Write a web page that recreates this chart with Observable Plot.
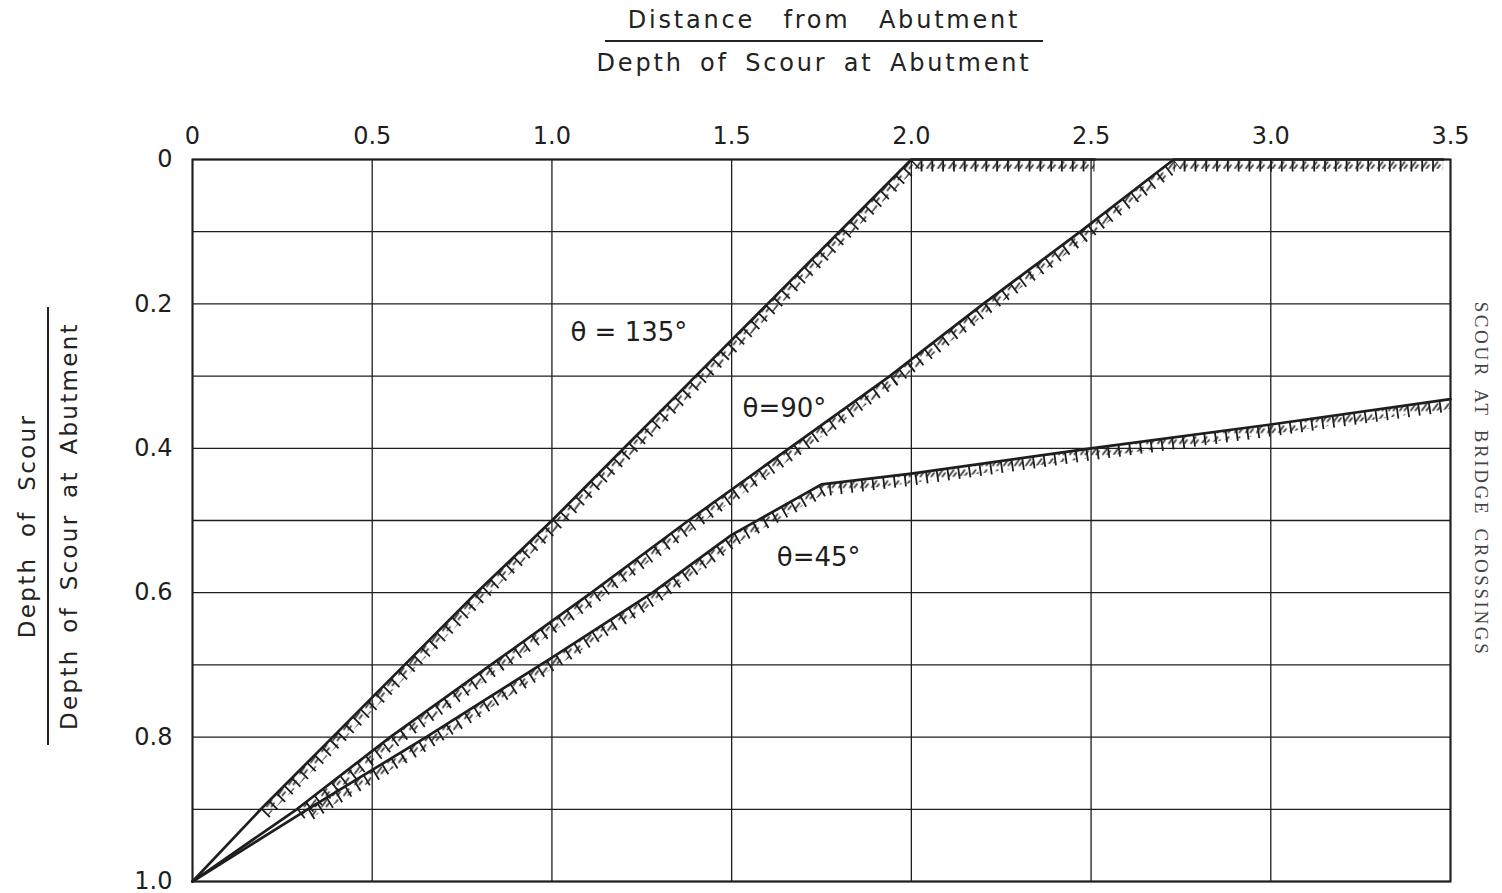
<!DOCTYPE html>
<html>
<head>
<meta charset="utf-8">
<script src="https://cdn.jsdelivr.net/npm/d3@7"></script>
<script src="https://cdn.jsdelivr.net/npm/@observablehq/plot@0.6"></script>
<style>
  html, body { margin: 0; padding: 0; background: #fff; }
  #wrap { position: relative; width: 1502px; height: 893px; font-family: "DejaVu Sans", sans-serif; color: #222; overflow: hidden; }
  #title { position: relative; height: 92px; }
  #title .num { position: absolute; left: 605px; width: 438px; top: 6px; text-align: center; font-size: 24px; line-height: 28px; letter-spacing: 2.8px; word-spacing: 18px; padding-bottom: 6px; border-bottom: 2px solid #222; }
  #title .den { position: absolute; left: 560px; width: 508px; top: 49px; text-align: center; font-size: 24px; line-height: 28px; letter-spacing: 2.8px; word-spacing: 6px; }
  #ylab { position: absolute; left: 48px; top: 526px; width: 438px; transform: translate(-50%, -50%) rotate(-90deg); text-align: center; font-size: 23px; letter-spacing: 2.3px; word-spacing: 6px; }
  #ylab .n { line-height: 28px; padding-bottom: 6px; border-bottom: 2px solid #222; word-spacing: 10px; }
  #ylab .d { line-height: 28px; padding-top: 6px; }
  #side { position: absolute; left: 1481px; top: 479px; transform: translate(-50%, -50%) rotate(90deg); white-space: nowrap; font-family: "Liberation Serif", "DejaVu Serif", serif; font-size: 19px; letter-spacing: 2.6px; word-spacing: 5px; color: #444; }
  #chart svg { display: block; }
</style>
</head>
<body>
<div id="wrap">
  <div id="title">
    <div class="num">Distance from Abutment</div>
    <div class="den">Depth of Scour at Abutment</div>
  </div>
  <div id="chart"></div>
  <div id="ylab"><div class="n">Depth of Scour</div><div class="d">Depth of Scour at Abutment</div></div>
  <div id="side">SCOUR AT BRIDGE CROSSINGS</div>
</div>
<script>
// ---- axis ticks ----
const xTicks = [0, 0.5, 1.0, 1.5, 2.0, 2.5, 3.0, 3.5];
const yGrid = [0, 0.1, 0.2, 0.3, 0.4, 0.5, 0.6, 0.7, 0.8, 0.9, 1.0];
const yTicks = [0, 0.2, 0.4, 0.6, 0.8, 1.0];

// ---- scour profiles (distance / depth of scour at abutment) ----
const dist135 = [0, 0.19, 0.39, 0.59, 0.79, 1.00, 1.20, 1.40, 1.60, 1.80, 2.00, 2.51];
const depth135 = [1.0, 0.9, 0.8, 0.7, 0.6, 0.5, 0.4, 0.3, 0.2, 0.1, 0, 0];

const dist90 = [0, 0.29, 0.55, 0.83, 1.11, 1.38, 1.66, 1.94, 2.20, 2.47, 2.73, 3.48];
const depth90 = [1.0, 0.9, 0.8, 0.7, 0.6, 0.5, 0.4, 0.3, 0.2, 0.1, 0, 0];

const dist45 = [0, 0.32, 0.65, 1.00, 1.28, 1.50, 1.75, 2.00, 2.50, 3.00, 3.50];
const depth45 = [1.0, 0.9, 0.8, 0.69, 0.6, 0.52, 0.45, 0.435, 0.40, 0.367, 0.332];

// ---- curve labels ----
const labelText = ["θ = 135°", "θ=90°", "θ=45°"];
const labelDist = [1.214, 1.647, 1.742];
const labelDepth = [0.24, 0.345, 0.552];

// ---- tables built from the arrays ----
const toRows = (xs, ds) => xs.map((x, i) => ({x, d: ds[i]}));
const series = [
  {key: "135", rows: toRows(dist135, depth135)},
  {key: "90", rows: toRows(dist90, depth90)},
  {key: "45", rows: toRows(dist45, depth45)}
];
const labels = labelText.map((t, i) => ({t, x: labelDist[i], d: labelDepth[i]}));

const ink = "#1e1e1e";
const fmt = v => v === 0 ? "0" : v.toFixed(1);
const ns = "http://www.w3.org/2000/svg";

// render hook: clip the hatching to the soil side (below) of each profile
function soilSide(id, rows, patternStroke) {
  return (index, scales, values, dims, context, next) => {
    const g = next(index, scales, values, dims, context);
    const area = d3.area().x(d => scales.x(d.x)).y0(() => scales.y(1)).y1(d => scales.y(d.d));
    const wrap = document.createElementNS(ns, "g");
    let defs = `<clipPath id="soil${id}"><path d="${area(rows)}"/></clipPath>`;
    if (patternStroke) {
      defs += `<pattern id="scrib${id}" patternUnits="userSpaceOnUse" width="11" height="11">` +
        `<path d="M2,10.5 L7.5,3 M6.5,10.5 L10,6" stroke="${ink}" stroke-width="1.5" fill="none"/></pattern>`;
      g.setAttribute("stroke", `url(#scrib${id})`);
      g.querySelectorAll("path").forEach(p => { if (p.hasAttribute("stroke")) p.setAttribute("stroke", `url(#scrib${id})`); });
    }
    wrap.innerHTML = `<defs>${defs}</defs>`;
    g.setAttribute("clip-path", `url(#soil${id})`);
    wrap.appendChild(g);
    return wrap;
  };
}

const marks = [
  Plot.ruleX(xTicks, {stroke: ink, strokeWidth: 1.3}),
  Plot.ruleY(yGrid, {stroke: ink, strokeWidth: 1.3})
];
for (const s of series) {
  const hatchRows = s.rows.slice(1);
  marks.push(Plot.line(hatchRows, {x: "x", y: "d", stroke: ink, strokeWidth: 24, strokeDasharray: "1.8 9", strokeLinecap: "butt", strokeLinejoin: "bevel", render: soilSide(s.key + "a", hatchRows, false)}));
  marks.push(Plot.line(hatchRows, {x: "x", y: "d", stroke: ink, strokeWidth: 19, strokeLinecap: "butt", strokeLinejoin: "bevel", render: soilSide(s.key + "b", hatchRows, true)}));
}
for (const s of series) {
  marks.push(Plot.line(s.rows, {x: "x", y: "d", stroke: ink, strokeWidth: 2.7}));
}
marks.push(Plot.frame({stroke: ink, strokeWidth: 2}));
marks.push(Plot.text(labels, {x: "x", y: "d", text: "t", fontSize: 26, fill: ink}));

const chart = Plot.plot({
  width: 1502,
  height: 801,
  marginTop: 67,
  marginLeft: 192,
  marginRight: 52,
  marginBottom: 12,
  style: {fontFamily: "DejaVu Sans, sans-serif", fontSize: "24px", color: ink, background: "white"},
  x: {domain: [0, 3.5], axis: "top", ticks: xTicks, tickFormat: fmt, tickSize: 0, tickPadding: 16, label: null},
  y: {domain: [0, 1], reverse: true, ticks: yTicks, tickFormat: fmt, tickSize: 0, tickPadding: 20, label: null},
  marks
});

document.getElementById("chart").appendChild(chart);
</script>
</body>
</html>
